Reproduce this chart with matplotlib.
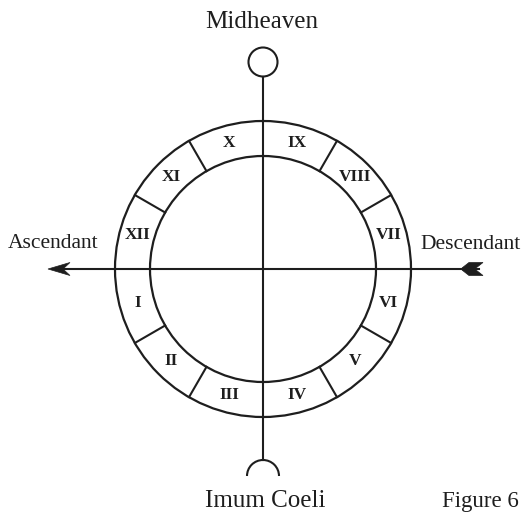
import numpy as np
import matplotlib.pyplot as plt
from matplotlib.patches import Circle, Arc, Polygon

# house wheel data
houses = ["VII", "VIII", "IX", "X", "XI", "XII", "I", "II", "III", "IV", "V", "VI"]
cusp_deg = np.arange(0, 360, 30)          # house cusps, counterclockwise from Descendant
label_deg = cusp_deg + 15                 # label in the middle of each house

cx, cy = 263, 269
r_out, r_in, r_lab = 148, 113, 130
ink = "#1e1e1e"
serif = ["Liberation Serif", "DejaVu Serif"]

fig = plt.figure(figsize=(5.21, 5.13), dpi=100)
ax = fig.add_axes([0, 0, 1, 1])
ax.set_xlim(0, 521)
ax.set_ylim(513, 0)
ax.set_aspect("equal")
ax.axis("off")

# circles
ax.add_patch(Circle((cx, cy), r_out, fill=False, ec=ink, lw=1.6))
ax.add_patch(Circle((cx, cy), r_in, fill=False, ec=ink, lw=1.6))

# cusp separators (not on the axes)
for a in cusp_deg:
    if a % 90 == 0:
        continue
    t = np.radians(a)
    ax.plot([cx + r_in*np.cos(t), cx + r_out*np.cos(t)],
            [cy - r_in*np.sin(t), cy - r_out*np.sin(t)], color=ink, lw=1.5)

for lab, a in zip(houses, label_deg):
    t = np.radians(a)
    ax.text(cx + r_lab*np.cos(t), cy - r_lab*np.sin(t), lab, family=serif,
            fontweight="bold", fontsize=12.5, ha="center", va="center", color=ink)

# meridian: Midheaven circle to Imum Coeli arc
mc_y, mc_r = 62, 14.5
ic_y, ic_r = 476, 16
ax.plot([cx, cx], [mc_y + mc_r, ic_y - ic_r], color=ink, lw=1.5)
ax.add_patch(Circle((cx, mc_y), mc_r, fill=False, ec=ink, lw=1.5))
ax.add_patch(Arc((cx, ic_y), 2*ic_r, 2*ic_r, theta1=180, theta2=360, ec=ink, lw=1.5))

# horizon: arrow from Descendant to Ascendant
x_tip, x_tail = 48, 483
ax.plot([x_tip + 10, x_tail - 4], [cy, cy], color=ink, lw=1.5)
ax.add_patch(Polygon([[x_tip, cy], [x_tip + 22, cy - 6.5], [x_tip + 15, cy],
                      [x_tip + 22, cy + 6.5]], closed=True, fc=ink, ec=ink, lw=0.5))
for s in (-1, 1):
    ax.add_patch(Polygon([[x_tail - 21, cy + s*1], [x_tail - 14, cy + s*6.5],
                          [x_tail, cy + s*6.5], [x_tail - 7, cy + s*1]],
                         closed=True, fc=ink, ec=ink, lw=0.5))

# labels
ax.text(262, 28, "Midheaven", family=serif, fontsize=18, ha="center", va="baseline", color=ink)
ax.text(265, 507, "Imum Coeli", family=serif, fontsize=18, ha="center", va="baseline", color=ink)
ax.text(8, 248, "Ascendant", family=serif, fontsize=15.5, ha="left", va="baseline", color=ink)
ax.text(420, 249, "Descendant", family=serif, fontsize=15.5, ha="left", va="baseline", color=ink)
ax.text(442, 507, "Figure 6", family=serif, fontsize=16.5, ha="left", va="baseline", color=ink)

fig.savefig("out.png", dpi=100, facecolor="white")
